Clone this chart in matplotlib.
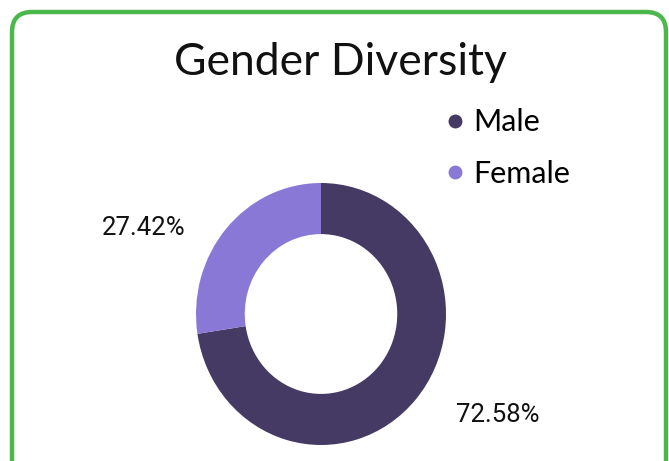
import matplotlib
matplotlib.use("Agg")
import matplotlib.pyplot as plt
from matplotlib.patches import FancyBboxPatch
from matplotlib.lines import Line2D

categories = ["Male", "Female"]
values = [72.58, 27.42]
colors = ["#443a63", "#8a78d6"]
title = "Gender Diversity"

W, H, DPI = 669, 461, 100
fig = plt.figure(figsize=(W / DPI, H / DPI), dpi=DPI)
fig.patch.set_facecolor("white")

# rounded green border (pixel coords)
border = FancyBboxPatch((12, -30), 654, 461 - 12 + 30,
                        boxstyle="round,pad=0,rounding_size=20",
                        transform=None, facecolor="none",
                        edgecolor="#4cb84c", linewidth=3.2)
fig.patches.append(border)

# donut axes
cx, cy, rx, ry = 321, 314, 125, 131
ax = fig.add_axes([(cx - rx) / W, 1 - (cy + ry) / H, 2 * rx / W, 2 * ry / H])
wedges, _ = ax.pie(values, colors=colors, startangle=90, counterclock=False,
                   radius=1.0, wedgeprops=dict(width=0.39, linewidth=0))
ax.set_aspect("auto")
ax.set_xlim(-1, 1)
ax.set_ylim(-1, 1)
ax.axis("off")

fig.text(340 / W, 1 - 62 / H, title, ha="center", va="center",
         fontsize=32, family="Lato", color="#111111")

# percentage labels
label_pos = {"Male": (498, 415), "Female": (144, 228)}
for cat, v in zip(categories, values):
    x, y = label_pos[cat]
    fig.text(x / W, 1 - y / H, f"{v:.2f}%", ha="center", va="center",
             fontsize=18.5, family="Roboto", color="#111111")

handles = [Line2D([], [], linestyle="none", marker="o", markersize=10,
                  markerfacecolor=c, markeredgewidth=0) for c in colors]
fig.legend(handles, categories, loc="upper left",
           bbox_to_anchor=(434 / W, 1 - 96 / H), frameon=False,
           prop=dict(family="Lato", size=22), handlelength=0.55,
           handletextpad=0.35, labelspacing=0.78, borderaxespad=0)

fig.savefig("out.png", dpi=DPI)
